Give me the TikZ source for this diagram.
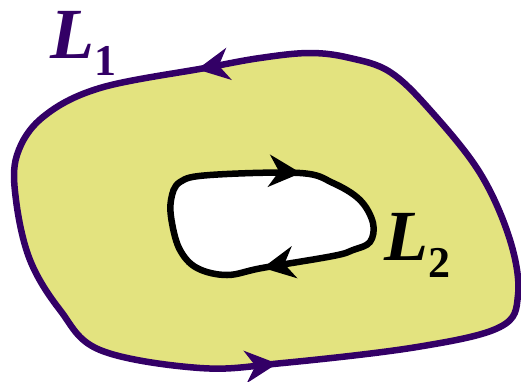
\documentclass[tikz,border=0pt]{standalone}
\usepackage{fontspec}
\setmainfont{Liberation Serif}
\usetikzlibrary{arrows.meta,decorations.markings}
\definecolor{regionfill}{RGB}{227,227,127}
\definecolor{outerline}{RGB}{51,0,102}
\tikzset{
  outercurve/.style={draw=outerline, line width=6.5pt, fill=regionfill, line join=round},
  innercurve/.style={draw=black, line width=6.5pt, fill=white, line join=round},
  bigtip/.tip={Stealth[length=32pt,width=32pt,inset=10pt]},
  lbl/.style={anchor=base west, inner sep=0pt, font=\fontsize{72}{72}\selectfont\bfseries\itshape}
}
\newcommand{\subdigit}[1]{\raisebox{-17pt}{\upshape\fontsize{44}{44}\selectfont #1}}
\begin{document}
\begin{tikzpicture}[x=1pt,y=-1pt]
\useasboundingbox (0,0) rectangle (521,381);
% outer boundary L1
\draw[outercurve,
  postaction={decorate},
  decoration={markings,
    mark=at position 0.006 with {\arrow[outerline]{bigtip}},
    mark=at position 0.463 with {\arrow[outerline]{bigtip}}}]
  plot[smooth cycle, tension=0.6] coordinates {
   (260,58) (205,68) (100,88) (43,117) (17,155) (16,200) (30,260) (60,310) (100,350)
   (200,368) (283,363) (417,347) (500,327) (518,295) (510,240) (480,173)
   (430,110) (390,72) (350,58) (310,53)};
% inner boundary L2
\draw[innercurve,
  postaction={decorate},
  decoration={markings,
    mark=at position 0.002 with {\arrow{bigtip}},
    mark=at position 0.44 with {\arrow{bigtip}}}]
  plot[smooth cycle, tension=0.6] coordinates {
   (210,175) (300,173) (333,183) (360,200) (373,223) (370,242) (353,250) (333,256)
   (262,268) (227,275) (197,268) (180,250) (172,223) (171,200) (180,182)};
\node[lbl, text=outerline] (l1) at (50,58) {L\subdigit{1}};
\node[lbl, text=black] (l2) at (384,260) {L\subdigit{2}};
\end{tikzpicture}
\end{document}
